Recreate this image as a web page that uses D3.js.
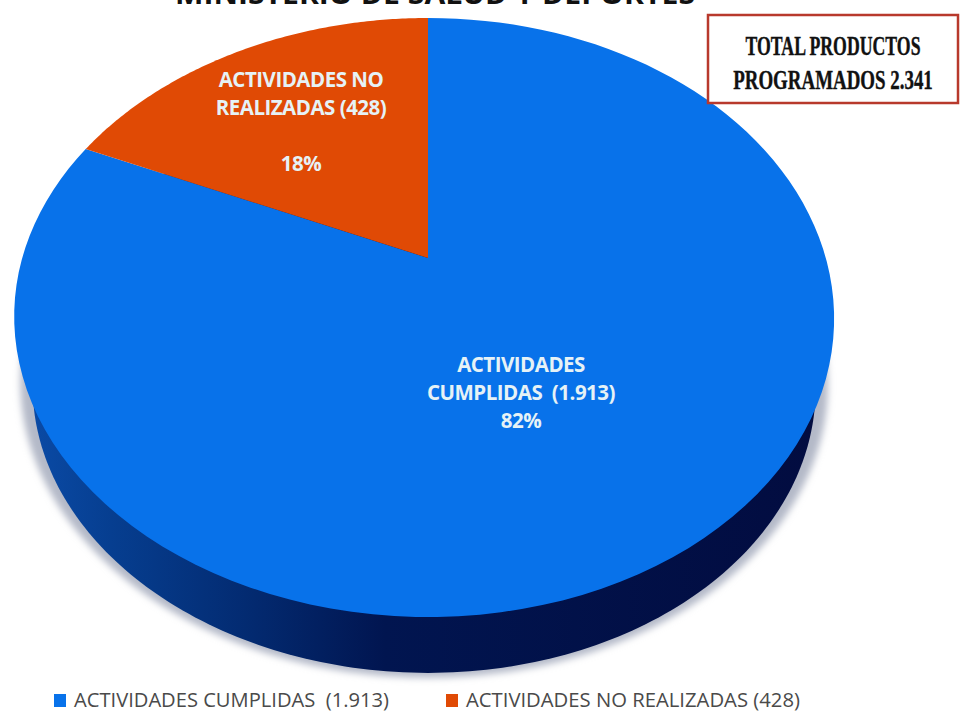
<!DOCTYPE html>
<html>
<head>
<meta charset="utf-8">
<script src="https://cdn.jsdelivr.net/npm/d3@7"></script>
<style>
html, body { margin: 0; padding: 0; background: #fff; }
svg { display: block; }
</style>
</head>
<body>
<div id="chart"></div>
<script>
const WIDTH = 962, HEIGHT = 724;

// data
const categories = ["ACTIVIDADES CUMPLIDAS", "ACTIVIDADES NO REALIZADAS"];
const values = [1913, 428];
const valueLabels = ["1.913", "428"];
const percents = ["82%", "18%"];
const colors = ["#0872ea", "#e04a05"];
const titleText = "MINISTERIO DE SALUD Y DEPORTES";
const totalLines = ["TOTAL PRODUCTOS", "PROGRAMADOS 2.341"];

const svg = d3.select("#chart").append("svg")
	.attr("width", WIDTH)
	.attr("height", HEIGHT);

const defs = svg.append("defs");
defs.append("filter").attr("id", "soft")
	.attr("x", "-10%").attr("y", "-10%").attr("width", "120%").attr("height", "130%")
	.append("feGaussianBlur").attr("stdDeviation", 3.5);

const wallGrad = defs.append("linearGradient").attr("id", "wall");
wallGrad.append("stop").attr("offset", "0%").attr("stop-color", "#0a4aa5");
wallGrad.append("stop").attr("offset", "10%").attr("stop-color", "#063e90");
wallGrad.append("stop").attr("offset", "28%").attr("stop-color", "#032a70");
wallGrad.append("stop").attr("offset", "45%").attr("stop-color", "#011550");
wallGrad.append("stop").attr("offset", "100%").attr("stop-color", "#020c40");

// tilted pie: unit circle through a perspective transform
const APEX_X = 428, APEX_Y = 258;
const PERSP = 0.1987, SX = 401.8, SY = 287.7;

function project(angle, r, drop, shrink) {
	const u = Math.sin(angle) * r, v = Math.cos(angle) * r;
	const w = 1 + PERSP * v;
	const s = shrink || 1;
	return [
		APEX_X - 4 * (1 - v * v) + SX * s * u / w,
		APEX_Y + (drop || 0) - SY * s * v / w
	];
}

const line = d3.line();
const pieArcs = d3.pie().sort(null).value(d => d)(values);

function slicePath(arc) {
	const steps = d3.range(0, 121).map(i => arc.startAngle + (arc.endAngle - arc.startAngle) * i / 120);
	return line([[APEX_X, APEX_Y]].concat(steps.map(a => project(a, 1)))) + "Z";
}

// lower edge of the pie side
const full = d3.range(0, 361).map(i => i * Math.PI / 180);
const sidePts = full.map(a => project(a, 1, 72, 0.955));

svg.append("path")
	.attr("d", line(full.map(a => project(a, 1, 66, 0.985))) + "Z")
	.attr("fill", "#b4b9c8")
	.attr("filter", "url(#soft)");

svg.append("path")
	.attr("d", line(sidePts) + "Z")
	.attr("fill", "url(#wall)");

svg.selectAll("path.slice")
	.data(pieArcs)
	.join("path")
	.attr("class", "slice")
	.attr("d", slicePath)
	.attr("fill", (d, i) => colors[i]);

// title, cut by the top of the page
svg.append("text")
	.attr("x", 435).attr("y", 4)
	.attr("text-anchor", "middle")
	.attr("font-family", "'Open Sans', sans-serif")
	.attr("font-weight", 700)
	.attr("font-size", 29)
	.attr("fill", "#111")
	.attr("textLength", 520)
	.attr("lengthAdjust", "spacingAndGlyphs")
	.text(titleText);

// slice labels
const labelFont = "'Open Sans', sans-serif";
const blueLines = ["ACTIVIDADES", "CUMPLIDAS  (" + valueLabels[0] + ")", percents[0]];
const orangeLines = ["ACTIVIDADES NO", "REALIZADAS (" + valueLabels[1] + ")", "", percents[1]];

function sliceLabel(lines, x, y, step) {
	svg.append("text")
		.attr("text-anchor", "middle")
		.attr("font-family", labelFont)
		.attr("font-weight", 700)
		.attr("font-size", 20.5)
		.attr("letter-spacing", -0.5)
		.attr("fill", "#e6f2f6")
		.attr("xml:space", "preserve")
		.selectAll("tspan")
		.data(lines)
		.join("tspan")
		.attr("x", x)
		.attr("y", (d, i) => y + i * step)
		.text(d => d);
}
sliceLabel(blueLines, 521, 372, 28);
sliceLabel(orangeLines, 301, 87, 28);

// total box
svg.append("rect")
	.attr("x", 708).attr("y", 15)
	.attr("width", 250).attr("height", 88)
	.attr("fill", "#fff")
	.attr("stroke", "#b8392c")
	.attr("stroke-width", 2.5);

const totalSqueeze = [0.634, 0.676];
svg.selectAll("text.total")
	.data(totalLines)
	.join("text")
	.attr("class", "total")
	.attr("transform", (d, i) => `translate(833,${55 + i * 34}) scale(${totalSqueeze[i]},1)`)
	.attr("text-anchor", "middle")
	.attr("font-family", "'Liberation Serif', serif")
	.attr("font-weight", 700)
	.attr("font-size", 28)
	.attr("fill", "#111")
	.attr("stroke", "#111")
	.attr("stroke-width", 0.4)
	.text(d => d);

// legend
const legendX = [54, 446];
const legend = svg.selectAll("g.legend")
	.data(categories)
	.join("g")
	.attr("class", "legend")
	.attr("transform", (d, i) => `translate(${legendX[i]},707)`);

legend.append("rect")
	.attr("x", 0).attr("y", -13)
	.attr("width", 12).attr("height", 13)
	.attr("fill", (d, i) => colors[i]);

legend.append("text")
	.attr("x", 20).attr("y", 0)
	.attr("font-family", labelFont)
	.attr("font-size", 20)
	.attr("fill", "#4a4a4a")
	.attr("xml:space", "preserve")
	.attr("textLength", (d, i) => [315, 334][i])
	.attr("lengthAdjust", "spacingAndGlyphs")
	.text((d, i) => d + (i == 0 ? "  (" : " (") + valueLabels[i] + ")");
</script>
</body>
</html>
